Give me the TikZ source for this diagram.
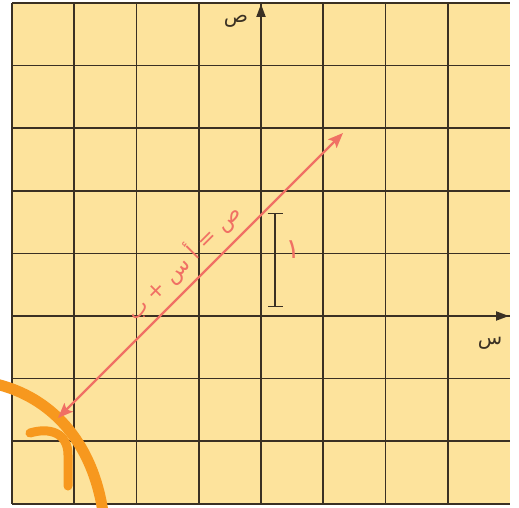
\documentclass[tikz,border=0pt]{standalone}
\usepackage{fontspec}
\newfontfamily\arabicfont[Script=Arabic]{DejaVu Sans}
\TeXXeTstate=1
\usetikzlibrary{arrows.meta}
\definecolor{paper}{RGB}{253,227,156}
\definecolor{gridc}{RGB}{58,48,35}
\definecolor{redl}{RGB}{240,112,100}
\definecolor{hl}{RGB}{247,152,30}
\tikzset{
  gridline/.style={gridc, line width=1.6pt},
  axis/.style={gridc, line width=2pt, -{Triangle[length=13pt,width=9pt]}},
  redline/.style={redl, line width=2.4pt, {Stealth[length=15pt,width=12pt,inset=3pt]}-{Stealth[length=15pt,width=12pt,inset=3pt]}},
  marker/.style={hl, line width=11pt, line cap=round},
  seg/.style={gridc, line width=1.4pt, {Bar[width=15pt,line width=1.4pt]}-{Bar[width=15pt,line width=1.4pt]}},
  axlabel/.style={text=gridc, font=\arabicfont\fontsize{20}{20}\selectfont, inner sep=0pt},
  redlabel/.style={text=redl, inner sep=0pt}
}
\begin{document}
\begin{tikzpicture}[x=1pt,y=-1pt]
\useasboundingbox (0,0) rectangle (519,508);
\fill[white] (0,0) rectangle (519,508);
\fill[paper] (12,3) rectangle (510,504);
% grid
\foreach \i in {0,...,7}{
  \draw[gridline] (12+62.25*\i,3) -- (12+62.25*\i,504);
}
\foreach \j in {0,...,8}{
  \draw[gridline] (12,3+62.6*\j) -- (510,3+62.6*\j);
}
% highlighter marks
\draw[marker] (-4,384) .. controls (50,397) and (92,440) .. (103,512);
\draw[marker, line width=9pt] (30,433) .. controls (50,427) and (68,433) .. (68,455) -- (68,486);
% axes
\coordinate (xs) at (12,316);
\coordinate (xe) at (509,316);
\coordinate (ys) at (261,504);
\coordinate (ye) at (261,4);
\draw[axis] (xs) -- (xe);
\draw[axis] (ys) -- (ye);
\node[axlabel] (ylab) at (236,21) {ص};
\node[axlabel] (xlab) at (490,343) {س};
% red line
\coordinate (la) at (58,418);
\coordinate (lb) at (343,133);
\draw[redline] (la) -- (lb);
\node[redlabel, rotate=45, font=\arabicfont\fontsize{22}{22}\selectfont] (eq) at (183,262) {\beginR ص = أ س + ب\endR};
% unit segment
\coordinate (st) at (275,213);
\coordinate (sb) at (275,307);
\draw[seg] (st) -- (sb);
\node[redlabel, font=\arabicfont\fontsize{28}{28}\selectfont] (one) at (293,250) {١};
\end{tikzpicture}
\end{document}
